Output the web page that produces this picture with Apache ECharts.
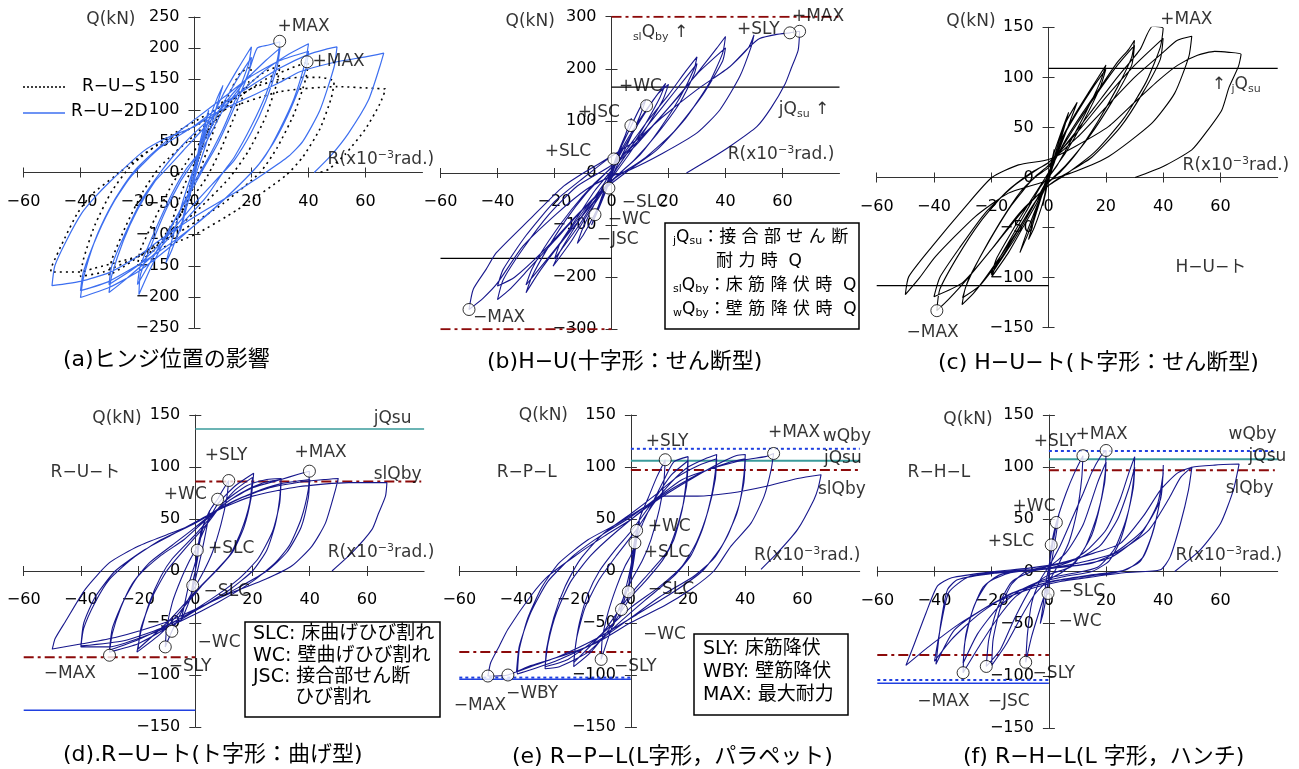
<!DOCTYPE html>
<html>
<head>
<meta charset="utf-8">
<script src="https://cdn.jsdelivr.net/npm/echarts@6/dist/echarts.min.js"></script>
<style>html,body{margin:0;background:#fff}#main{width:1299px;height:769px}</style>
</head>
<body>
<div id="main"></div>
<script>
// ---- tick labels ----
var xTicks = [-60, -40, -20, 0, 20, 40, 60];

// ---- (a) ヒンジ位置の影響 : R-U-2D (blue) / R-U-S (dotted) ----
var ru2d = [
 [0,0],[1,25],[2,45],[1,20],[0,0],[-1,-25],[-2,-45],[-1,-20],[0,0],
 [2,50],[4,85],[5,100],[3,60],[0,10],[-3,-50],[-5,-95],[-3,-60],[0,-5],
 [4,70],[8,120],[10,140],[8,110],[4,45],[0,-10],[-4,-75],[-8,-125],[-10,-145],[-8,-110],[-4,-45],[0,10],
 [5,75],[10,125],[15,165],[19,195],[20,202],[19,175],[15,125],[10,70],[5,25],[0,-15],[-5,-60],[-10,-105],[-15,-150],[-19.5,-196],[-19,-165],[-15,-115],[-10,-60],[-5,-15],[0,20],
 [5,65],[10,110],[15,150],[20,185],[19,160],[14,105],[8,45],[3,5],[-3,-45],[-10,-100],[-15,-140],[-20,-180],[-19,-150],[-14,-95],[-8,-35],[-3,5],
 [3,40],[10,100],[18,150],[22,200],[26,205],[30,210],[29,180],[25,125],[20,75],[14,25],[10,0],[4,-40],[-5,-85],[-15,-135],[-25,-175],[-30,-193],[-29,-165],[-25,-110],[-20,-60],[-14,-15],[-10,5],[-4,35],[5,80],[15,135],[25,180],[30,200],
 [29,170],[25,115],[20,65],[14,20],[8,-10],[0,-50],[-10,-105],[-20,-150],[-30,-180],[-29,-150],[-24,-95],[-18,-40],[-12,0],
 [-4,45],[5,85],[15,125],[25,165],[33,190],[40,207],[39,180],[35,120],[30,70],[25,28],[20,0],[10,-45],[0,-85],[-10,-125],[-20,-160],[-30,-185],[-40,-201],[-39,-170],[-35,-110],[-30,-60],[-25,-22],[-20,8],[-10,50],[0,85],[10,120],[20,155],[30,180],[40,195],
 [39,165],[34,105],[28,50],[22,10],[10,-45],[0,-85],[-15,-135],[-30,-175],[-40,-190],[-39,-160],[-34,-100],[-28,-45],[-22,-5],
 [-12,40],[0,75],[10,110],[20,140],[30,168],[40,190],[46,198],[50,202],[49,170],[44,100],[38,50],[33,26],[25,0],[14,-33],[0,-71],[-12,-108],[-20,-135],[-30,-161],[-40,-175],[-50,-182],
 [-49,-150],[-45,-110],[-39.5,-65],[-35,-40],[-29.5,-14],[-18,34],[-10,55],[0,74],[7,95],[21,125],[30,145],[37,162],[50,178],[60,186],[66.4,192],
 [65,170],[61,116],[54,63],[48,28],[42,0]
];
var rus = [
 [0,0],[2,40],[5,75],[3,45],[0,0],[-2,-40],[-5,-70],[-3,-40],[0,0],
 [4,60],[8,100],[10,115],[8,85],[4,30],[0,-20],[-4,-60],[-8,-95],[-10,-110],[-8,-80],[-4,-25],[0,15],
 [6,75],[12,125],[16,160],[20,170],[19,145],[14,90],[9,35],[4,-10],[-4,-60],[-12,-110],[-20,-150],[-19,-125],[-14,-75],[-8,-20],[-3,15],
 [6,75],[15,125],[24,160],[30,172],[29,145],[25,90],[19,35],[12,-10],[0,-65],[-15,-120],[-25,-152],[-30,-165],[-29,-140],[-24,-85],[-18,-30],[-12,10],[0,60],
 [12,110],[25,150],[34,168],[40,178],[39,150],[35,95],[29,40],[23,0],[10,-50],[-5,-95],[-20,-135],[-32,-160],[-40,-167],[-39,-140],[-35,-85],[-29,-30],[-22,12],[-10,55],[5,95],
 [20,135],[30,150],[38,153],[44,153],[49,146],[48,120],[44,70],[38,25],[32,-5],[15,-60],[0,-100],[-20,-135],[-36,-155],[-40,-160],[-50.5,-160],[-50,-150],[-46,-110],[-41,-65],[-36,-35],[-28,-6],[-19,26],[-10,52],
 [0,74],[10,100],[30,130],[50,138],[64,135],[67,134],[65,110],[60,70],[53,30],[47,5],[44,0]
];
var markA = [[29.9,211],[39.5,178]];
var notesA = [[-20.7,246,'Q(kN)','right'],[29.1,235,'+MAX'],[41.4,178.5,'+MAX'],[46.7,21,'R(x10{sup|−3}rad.)']];

// ---- (b) H-U ----
var hu = [
 [0,0],[1,20],[2,35],[1,15],[0,0],[-1,-20],[-2,-35],[-1,-15],[0,0],
 [2,35],[5,75],[7,105],[5,75],[2,25],[0,-5],[-2,-35],[-5,-75],[-7,-100],[-5,-70],[-2,-25],[0,5],
 [3,45],[6,80],[10,125],[12,140],[10,110],[6,60],[2,15],[0,-10],[-3,-45],[-6,-80],[-10,-120],[-12,-135],[-10,-105],[-6,-60],[-2,-15],[0,5],
 [4,50],[9,95],[14,135],[19,172],[17,145],[12,95],[7,50],[2,10],[-3,-35],[-9,-85],[-14,-130],[-20.5,-179],[-18,-150],[-13,-105],[-7,-55],[-2,-15],
 [4,45],[10,100],[16,150],[20,170],[18,140],[12,85],[6,35],[0,-10],[-6,-55],[-12,-105],[-18,-150],[-20,-165],[-18,-135],[-12,-85],[-6,-35],[0,5],
 [6,50],[12,95],[20,150],[26,195],[30,223],[29,200],[24,145],[17,85],[10,35],[3,0],[-4,-40],[-12,-95],[-20,-150],[-26,-195],[-30,-230],[-28,-200],[-23,-150],[-16,-90],[-9,-40],[-2,0],
 [6,45],[14,100],[22,155],[30,210],[29,190],[24,135],[16,75],[8,25],[0,-15],[-8,-60],[-16,-120],[-24,-175],[-30,-215],[-28,-185],[-22,-130],[-14,-70],[-6,-20],[0,10],
 [8,50],[16,100],[24,150],[32,205],[37,240],[40,262],[39,230],[34,170],[26,105],[16,45],[6,5],[0,-20],[-10,-70],[-20,-130],[-30,-190],[-36,-225],[-40,-243],[-38,-205],[-31,-145],[-22,-80],[-12,-25],[0,15],
 [10,65],[20,125],[30,190],[40,240],[39,215],[32,150],[22,80],[12,30],[0,-15],[-12,-80],[-24,-150],[-34,-200],[-40,-217],[-38,-185],[-30,-120],[-20,-55],[-10,-10],
 [0,32],[9,64],[18,108],[30,160],[41.5,204],[48,240],[50,265],[49,242],[45,185],[38,121],[30,77],[18,38],[6.4,6],[0,-6],[-9,-32],[-19,-77],[-31,-140],[-40,-211],[-45,-240],[-50,-262],
 [-48.5,-223],[-44,-185],[-40.4,-153],[-28.7,-89],[-17,-26],[-9,3],[0,32],[9,64],[18,108],[30,160],[41.5,204],[48,240],[52,258],[58,266],[62.6,269],[66,272],
 [65.5,236],[63,200],[61,172],[56,125],[51,89],[41.5,51],[34,25],[26.3,0]
];
var markB = [[66,272],[62.6,269],[12.3,129],[6.8,91],[0.8,27],[-0.9,-29],[-5.8,-80],[-50,-262]];
var notesB = [[-19.9,290,'Q(kN)','right'],[63.3,300,'+MAX'],[44,275,'+SLY'],[2.6,165,'+WC'],[-11.8,115.6,'+JSC'],[-23.4,41,'+SLC'],
 [3.6,-57,'−SLC'],[-1.3,-90,'−WC'],[-5.2,-127,'−JSC'],[-48.6,-278,'−MAX'],[7.5,269,'{s|sl}Q{s|by} ↑'],[58.7,121.5,'jQ{s|su} ↑'],
 [40.8,35,'R(x10{sup|−3}rad.)']];
var refB_sl = [[300,0,80],[-300,-60,0]];
var refB_jq = [[165,0,80],[-164,-60,0]];

// ---- (c) H-U-ト ----
var hut = [
 [0,0],[1,15],[2,28],[1,12],[0,0],[-1,-15],[-2,-28],[-1,-12],[0,0],
 [2,25],[5,50],[7,65],[5,45],[2,15],[0,0],[-2,-25],[-5,-50],[-7,-62],[-5,-42],[-2,-15],[0,0],
 [3,30],[6,55],[10,75],[8,60],[4,30],[0,5],[-4,-30],[-7,-55],[-10,-75],[-8,-58],[-4,-28],[0,-3],
 [4,35],[9,62],[14,85],[20,112],[18,95],[13,65],[8,38],[3,12],[0,0],[-4,-25],[-9,-50],[-14,-75],[-19.8,-99],[-18,-85],[-13,-60],[-8,-35],[-3,-10],[0,2],
 [5,40],[10,65],[16,92],[20,108],[18,90],[12,55],[6,25],[0,0],[-6,-32],[-12,-62],[-18,-88],[-20,-97],[-18,-80],[-12,-50],[-6,-22],[0,5],
 [6,38],[12,65],[18,90],[24,115],[28,128],[30,137],[29,120],[24,90],[17,55],[10,25],[4,5],[0,-5],[-6,-30],[-12,-58],[-20,-92],[-26,-115],[-30.2,-127],[-29,-110],[-24,-80],[-17,-45],[-10,-15],[-4,2],[0,10],
 [8,45],[16,80],[24,112],[30,132],[29,112],[22,75],[14,40],[6,12],[0,-5],[-8,-40],[-16,-78],[-24,-108],[-30,-120],[-28,-102],[-21,-65],[-13,-28],[-5,0],[0,12],
 [8,40],[16,70],[24,100],[32,128],[36.3,151],[40,149],[39,130],[34,95],[26,58],[16,25],[6,3],[0,-8],[-8,-30],[-18,-65],[-28,-100],[-35,-122],[-39,-133],[-38,-112],[-32,-80],[-24,-45],[-15,-15],[-6,5],[0,15],
 [10,45],[20,80],[30,112],[40,139],[39,118],[33,85],[25,50],[15,20],[5,2],[0,-8],[-10,-35],[-20,-72],[-30,-105],[-40,-119],[-38,-100],[-31,-70],[-22,-35],[-12,-8],[-4,8],[0,15],
 [10,40],[20,70],[30,100],[40,125],[45,137],[50,141],[49,121],[44,84],[36,54],[21,21],[9.3,6],[-1.2,-4],[-14,-15.6],[-25.6,-39],[-39.5,-79],[-45,-100],[-50,-117],
 [-48.8,-99],[-40.7,-69],[-29,-29],[-19.8,0],[-10.5,12.6],[0,18],[9.3,31],[21,51],[30,75],[38.4,97],[45,112],[52,122],[58,126],[63,125],[67.2,123],
 [66.3,111],[63,90],[60.5,67.5],[55,45],[50,27.6],[40,11],[30.2,0]
];
var markC = [[36.3,151],[-39,-133]];
var notesC = [[-18.5,155.5,'Q(kN)','right'],[39,158,'+MAX'],[57,92.5,'↑ {s|j}Q{s|su}'],[44.3,-89.5,'H−U−ト'],[-49.6,-154.5,'−MAX'],[46.8,11.5,'R(x10{sup|−3}rad.)']];
var refC_jq = [[109,0,80],[-108,-60,0]];

// ---- (d) R-U-ト ----
var rut = [
 [0,0],[0.7,20],[1.5,32],[0.8,12],[0,0],[-0.9,-14],[-1.5,-24],[-0.7,-8],[0,0],
 [2,38],[4,52],[5,58],[4,42],[2,15],[0,-8],[-2,-28],[-4,-42],[-5,-48],[-4,-35],[-2,-10],[0,8],
 [3,45],[5.5,60],[7.8,69],[9,75],[11.7,87],[11,70],[9,45],[6,18],[3,0],[0,-15],[-4,-35],[-8.2,-58],[-10.5,-73],[-10,-55],[-8,-30],[-5,-8],[-2,10],[0,20],
 [4,45],[8,65],[14,82],[20.4,94],[19.5,70],[17,42],[13,18],[8,2],[2,-15],[-5,-38],[-12,-60],[-20.4,-78],[-19,-58],[-16,-30],[-12,-5],[-8,12],[0,35],[8,60],
 [14,78],[20,90],[19,65],[16,38],[12,15],[6,-3],[0,-20],[-10,-50],[-20,-75],[-19,-55],[-15,-25],[-10,0],[-4,20],[4,45],
 [10,66],[18,82],[25,88],[30,89],[29.5,70],[28,45],[25,20],[20,0],[12,-18],[2,-35],[-10,-55],[-20,-70],[-30,-78],[-29,-60],[-26,-35],[-22,-12],[-16,8],[-8,25],[0,42],[8,60],
 [16,75],[24,85],[30,88],[29.5,65],[27,38],[22,12],[15,-8],[5,-28],[-8,-50],[-20,-66],[-30,-76],[-29,-55],[-25,-28],[-20,-5],[-12,15],[-4,30],[4,50],
 [12,68],[20,80],[30,88],[36,93],[39.9,96],[39.5,78],[37,50],[33,25],[28,8],[20,-10],[8,-30],[-5,-48],[-18,-63],[-30,-73],[-40,-73],[-39,-55],[-35,-30],[-30,-8],[-22,12],[-12,30],[0,46],[10,62],
 [20,75],[30,84],[40,88],[39.5,70],[37,42],[32,18],[25,0],[15,-16],[2,-35],[-12,-55],[-25,-67],[-40,-72],[-39,-50],[-35,-25],[-28,0],[-18,20],[-8,35],[2,50],
 [14,68],[26,80],[38,86],[45,88],[50,89],[49,78],[45.5,46],[40.8,24],[33.8,5],[24.5,-8],[12.8,-20.7],[0,-36.7],[-10.5,-49.5],[-28,-64],[-39.6,-70],[-50,-75],
 [-49,-65],[-45.5,-49],[-38.5,-17.6],[-30,8],[-19.8,24],[-8.2,36.7],[0,46],[8.2,59],[20,72],[36,81],[53.6,85],[67,85],
 [66.5,72],[64,55],[61.8,40],[54.8,17.6],[47.8,0]
];
var markD = [[11.7,87],[7.8,69],[39.9,96],[0.7,20],[-0.9,-14],[-8.2,-58],[-10.5,-73],[-30,-81]];
var notesD = [[-18.8,147,'Q(kN)','right'],[62.4,147,'jQsu'],[62.4,93,'slQby'],[-50.6,95,'R−U−ト'],[3.3,111,'+SLY'],[34.7,114,'+MAX'],
 [-11,73.7,'+WC'],[4.4,21.8,'+SLC'],[2.9,-19.6,'−SLC'],[0.8,-68.6,'−WC'],[-9.3,-91.6,'−SLY'],[-53,-98.5,'−MAX'],[46.3,18,'R(x10{sup|−3}rad.)']];
var refD_jq = [[136.6,0,80]];
var refD_jqn = [[-134,-60,0]];
var refD_sl = [[86,0,79],[-83,-60,0]];

// ---- (e) R-P-L ----
var rpl = [
 [0,0],[0.7,15],[1.4,27],[0.7,10],[0,0],[-0.5,-10],[-0.9,-20],[-0.5,-8],[0,0],
 [1,25],[2,39],[3,48],[2,30],[1,10],[0,-5],[-2,-25],[-3.3,-37],[-4,-45],[-3,-30],[-1,-8],[0,5],
 [3,50],[6,70],[9,90],[12,107],[11.5,85],[10,60],[7,30],[4,10],[0,-10],[-4,-35],[-8,-65],[-10.4,-85],[-10,-65],[-8,-40],[-5,-15],[-2,5],[0,15],
 [4,45],[8,68],[12,90],[15,105],[20,110],[19.5,90],[18,60],[15,30],[11,10],[5,-10],[0,-25],[-6,-50],[-14,-78],[-20,-92],[-19.5,-75],[-18,-50],[-15,-22],[-11,0],[-5,22],[0,38],
 [8,68],[14,92],[20,106],[19.5,82],[17,50],[13,20],[7,0],[0,-22],[-10,-60],[-20,-88],[-19,-65],[-16,-35],[-11,-8],[-5,15],[2,40],
 [8,65],[14,85],[20,100],[26,108],[30,112],[29.5,95],[28,70],[25,40],[21,15],[15,-5],[5,-28],[-5,-52],[-15,-78],[-25,-92],[-30,-94],[-29.5,-75],[-27,-45],[-23,-15],[-18,10],[-10,35],[0,55],[8,72],
 [16,90],[24,102],[30,108],[29.5,88],[27,58],[23,28],[18,5],[10,-15],[0,-35],[-12,-65],[-22,-85],[-30,-92],[-29,-70],[-26,-40],[-21,-10],[-14,15],[-5,38],[5,60],
 [13,75],[22,90],[32,105],[37,111],[40,112],[39.5,92],[38,65],[34,35],[29,12],[22,-5],[10,-25],[0,-45],[-12,-68],[-25,-85],[-35,-95],[-39.7,-99],[-39,-75],[-36,-45],[-31,-15],[-25,8],[-15,30],[-5,45],[5,62],
 [15,80],[25,95],[35,105],[40,108],[39.5,85],[37,55],[32,25],[25,0],[15,-20],[2,-42],[-12,-65],[-25,-82],[-35,-92],[-40,-97],[-39,-72],[-35,-40],[-29,-10],[-20,15],[-10,35],[0,52],
 [8,68],[18,88],[30,100],[40,107],[47,110],[49.9,113],[49,97],[46.6,72],[42,46],[35,24],[29,0],[21,-17.6],[11.7,-33.5],[0,-49.5],[-11.7,-68.6],[-23.3,-81],[-35,-91],[-43,-100],[-50,-101],
 [-49,-88],[-46,-72],[-43,-56],[-35,-24],[-29,-5],[-19.8,14],[-9.3,33.5],[0,49.5],[7,65],[11.7,72],[23.3,72],[35,75],[46.6,81],[58.3,89],[66.5,92.6],
 [65.5,80],[64,68.6],[58.3,40],[51.3,17.6],[45.5,1.6]
];
var markE = [[12,107],[49.9,113],[2,39],[1.4,27],[-0.9,-20],[-3.3,-37],[-10.4,-85],[-43,-100],[-50,-101]];
var notesE = [[-22,149.7,'Q(kN)','right'],[-46.9,95,'R−P−L'],[5.2,124,'+SLY'],[47.9,133,'+MAX'],[67.1,129.5,'wQby'],[67.5,108.4,'jQsu'],
 [65.4,78.6,'slQby'],[5.9,43,'+WC'],[4.5,18,'+SLC'],[5.9,-17.6,'−SLC'],[4.2,-61,'−WC'],[-5.9,-91.6,'−SLY'],[-43.7,-117.6,'−WBY'],
 [-61.9,-129,'−MAX'],[43,15,'R(x10{sup|−3}rad.)']];
var refE_w = [[117.5,0,80],[-102.5,-60,0]];
var refE_jq = [[106,0,80]];
var refE_jqn = [[-104,-60,0]];
var refE_sl = [[97,0,80],[-78,-60,0]];

// ---- (f) R-H-L ----
var rhl = [
 [0,0],[0.5,15],[0.8,25],[0.4,10],[0,0],[-0.2,-12],[-0.3,-21],[-0.2,-8],[0,0],
 [1.2,30],[2.6,47],[3.5,55],[2.5,35],[1,10],[0,-5],[-1,-25],[-2,-40],[-3,-50],[-2,-32],[-1,-10],[0,5],
 [3,50],[6,75],[9,95],[11.9,111],[11.5,90],[10,60],[7,28],[3,5],[0,-10],[-3,-35],[-6,-62],[-8.1,-87],[-7.5,-60],[-6,-30],[-3,-8],[0,5],
 [4,25],[8,50],[12,75],[15,95],[18,110],[20,116],[19.7,95],[18,65],[15,35],[10,12],[5,0],[0,-8],[-5,-22],[-10,-45],[-15,-70],[-20,-90],[-19.5,-65],[-17,-35],[-13,-12],[-8,0],[0,5],
 [6,18],[12,45],[17,85],[20,105],[19.5,85],[17,55],[13,25],[8,5],[0,-3],[-6,-15],[-12,-45],[-17,-75],[-21.9,-91],[-21,-65],[-18,-35],[-13,-10],[-6,0],[0,3],
 [8,10],[14,22],[20,40],[25,70],[28,95],[30,110],[29.6,88],[28,60],[25,30],[21,10],[15,0],[5,-5],[-5,-12],[-12,-25],[-18,-45],[-24,-70],[-30,-97],[-29.5,-70],[-27,-40],[-23,-15],[-17,-3],[-8,1],[0,5],
 [10,12],[18,25],[24,50],[28,80],[30,100],[29.5,80],[27,50],[23,22],[17,4],[8,-2],[0,-6],[-10,-18],[-18,-35],[-25,-60],[-30,-88],[-29,-60],[-26,-32],[-21,-10],[-12,0],[0,3],
 [10,8],[22.7,17.6],[33,40],[39,69],[40,102],[39.5,78],[36.6,40],[33,14],[27,1.6],[15.7,-3],[4,-8],[-10,-17.6],[-21.5,-33.5],[-33,-56],[-39.5,-89],[-37.8,-49.5],[-35.5,-17.6],[-32,-8],[-19,-1.6],[-4,1.6],[10,6],
 [22,14],[32,35],[38,65],[40,95],[39,70],[36,35],[32,10],[25,0],[12,-5],[0,-10],[-14,-22],[-25,-42],[-34,-65],[-40,-86],[-38,-55],[-35,-20],[-28,-5],[-15,0],[0,3],
 [15,8],[25,20],[35,40],[42,70],[46,90],[50,100],[48.8,78],[46,46],[42.4,14],[39,1.6],[27,-1],[15.7,-5],[4,-9.6],[-7.6,-17.6],[-19,-30],[-31,-49.5],[-42,-72],[-50,-90],
 [-47,-69],[-43,-40],[-39,-14],[-34,-6],[-19,0],[-7.6,3],[4,8],[15.7,17.6],[25,27],[33,53],[39,78],[44.8,94],[50,100],[58,102],[66.5,103],
 [64.5,78],[60,46],[53,21],[44,0]
];
var markF = [[11.9,111],[20,116],[2.6,47],[0.8,25.5],[-0.3,-21],[-8.1,-87],[-21.9,-91],[-30,-97]];
var notesF = [[-19.7,146,'Q(kN)','right'],[-49.4,95,'R−H−L'],[-5.3,124.7,'+SLY'],[9.3,131.4,'+MAX'],[62.8,131.4,'wQby'],[69.8,110,'jQsu'],
 [61.8,79.5,'slQby'],[-12.7,62,'+WC'],[-21.4,28.5,'+SLC'],[3.4,-19.6,'−SLC'],[3.4,-48,'−WC'],[-5.7,-97.5,'−SLY'],[-46,-125,'−MAX'],
 [-21.4,-125,'−JSC'],[44.3,15,'R(x10{sup|−3}rad.)']];
var refF_w = [[115.5,0,78.5],[-104,-60,0]];
var refF_jq = [[107.6,0,80]];
var refF_jqn = [[-107,-60,0]];
var refF_sl = [[97,0,79],[-80,-60,0]];

// ---- styles ----
var FONT = '"DejaVu Sans", "Noto Sans CJK JP", sans-serif';
var NAVY = '#17178c', DRED = '#8c0a0a', TEAL = '#3a9b9b', BLUE = '#2040e0';
var AXIS = '#333';
var DASHDOT = [10, 4, 3, 4];
var XMIN = -60, XMAX = 80;

var panels = [
  {left: 23.5, top: 17, width: 399, height: 311, y: [-250, 250, 50], marks: markA, notes: notesA,
   loops: [{d: rus, c: '#000', t: [2, 4], w: 1.6}, {d: ru2d, c: '#3d6ff0', w: 1.2}], refs: []},
  {left: 440.5, top: 16.7, width: 399, height: 312.6, y: [-300, 300, 100], marks: markB, notes: notesB,
   loops: [{d: hu, c: NAVY}],
   refs: [{d: refB_sl, c: DRED, t: DASHDOT, w: 2}, {d: refB_jq, c: '#000', w: 1.2}]},
  {left: 876.7, top: 27.3, width: 401, height: 300.4, y: [-150, 150, 50], marks: markC, notes: notesC,
   loops: [{d: hut, c: '#000'}], refs: [{d: refC_jq, c: '#000', w: 1.2}]},
  {left: 23.7, top: 415, width: 400.4, height: 312, y: [-150, 150, 50], marks: markD, notes: notesD,
   loops: [{d: rut, c: NAVY}],
   refs: [{d: refD_jq, c: TEAL, w: 1.5}, {d: refD_jqn, c: BLUE, w: 1.5}, {d: refD_sl, c: DRED, t: DASHDOT, w: 2}]},
  {left: 459.3, top: 415, width: 400.4, height: 312, y: [-150, 150, 50], marks: markE, notes: notesE,
   loops: [{d: rpl, c: NAVY}],
   refs: [{d: refE_w, c: BLUE, t: [3, 3], w: 2}, {d: refE_jq, c: TEAL, w: 2}, {d: refE_jqn, c: BLUE, w: 1.5}, {d: refE_sl, c: DRED, t: DASHDOT, w: 2}]},
  {left: 877.3, top: 415, width: 400.4, height: 313, y: [-150, 150, 50], marks: markF, notes: notesF,
   loops: [{d: rhl, c: NAVY}],
   refs: [{d: refF_w, c: BLUE, t: [3, 3], w: 2}, {d: refF_jq, c: TEAL, w: 2}, {d: refF_jqn, c: BLUE, w: 1.5}, {d: refF_sl, c: DRED, t: DASHDOT, w: 2}]}
];

function fmt(v) { return v < 0 ? '−' + Math.abs(v) : String(v); }

var grids = [], xAxes = [], yAxes = [], series = [];
var rich = {
  sup: {fontSize: 11, fontFamily: FONT, color: '#000', verticalAlign: 'top', lineHeight: 12},
  s: {fontSize: 11, fontFamily: FONT, color: '#000', verticalAlign: 'bottom', lineHeight: 12}
};

panels.forEach(function (p, i) {
  grids.push({left: p.left, top: p.top, width: p.width, height: p.height, containLabel: false, outerBoundsMode: 'none'});
  // axes cross at the origin: shift them inward by the distance from the grid edge to zero
  var xZero = -(0 - XMIN) / (XMAX - XMIN) * p.width;
  var xZeroR = -(XMAX - 0) / (XMAX - XMIN) * p.width;
  var yZero = -(0 - p.y[0]) / (p.y[1] - p.y[0]) * p.height;
  var yZeroT = -(p.y[1] - 0) / (p.y[1] - p.y[0]) * p.height;
  xAxes.push({type: 'value', gridIndex: i, min: XMIN, max: XMAX, position: 'bottom', offset: yZero,
    axisLine: {onZero: false, lineStyle: {color: AXIS, width: 1}},
    axisTick: {customValues: xTicks, length: 5, lineStyle: {color: AXIS}},
    axisLabel: {customValues: xTicks, margin: 21, fontSize: 16, color: '#000', fontFamily: FONT, formatter: fmt},
    splitLine: {show: false}});
  xAxes.push({type: 'value', gridIndex: i, min: XMIN, max: XMAX, position: 'top', offset: yZeroT,
    axisLine: {show: false, onZero: false},
    axisTick: {customValues: xTicks, length: 5, lineStyle: {color: AXIS}},
    axisLabel: {show: false}, splitLine: {show: false}});
  yAxes.push({type: 'value', gridIndex: i, min: p.y[0], max: p.y[1], interval: p.y[2], position: 'left', offset: xZero,
    axisLine: {onZero: false, lineStyle: {color: AXIS, width: 1}},
    axisTick: {length: 6, lineStyle: {color: AXIS}},
    axisLabel: {margin: 15, fontSize: 16, color: '#000', fontFamily: FONT, formatter: fmt},
    splitLine: {show: false}});
  yAxes.push({type: 'value', gridIndex: i, min: p.y[0], max: p.y[1], interval: p.y[2], position: 'right', offset: xZeroR,
    axisLine: {show: false, onZero: false},
    axisTick: {length: 6, lineStyle: {color: AXIS}},
    axisLabel: {show: false}, splitLine: {show: false}});
  var xi = 2 * i, yi = 2 * i;

  p.refs.forEach(function (r) {
    r.d.forEach(function (s) {
      series.push({type: 'line', xAxisIndex: xi, yAxisIndex: yi, data: [[s[1], s[0]], [s[2], s[0]]], symbol: 'none', silent: true, z: 2,
        lineStyle: {color: r.c, width: r.w || 1.2, type: r.t || 'solid'}});
    });
  });
  p.loops.forEach(function (l) {
    series.push({type: 'line', xAxisIndex: xi, yAxisIndex: yi, data: l.d, symbol: 'none', smooth: 0.2, silent: true, z: 3,
      lineStyle: {color: l.c, width: l.w || 1.1, type: l.t || 'solid'}});
  });
  series.push({type: 'scatter', xAxisIndex: xi, yAxisIndex: yi, data: p.marks, symbol: 'circle', symbolSize: 12, z: 5, silent: true,
    itemStyle: {color: '#fff', borderColor: '#000', borderWidth: 1}});
  series.push({type: 'scatter', xAxisIndex: xi, yAxisIndex: yi, clip: false, silent: true, z: 6, symbolSize: 1,
    itemStyle: {color: 'rgba(0,0,0,0)'},
    data: p.notes.map(function (n) {
      return {value: [n[0], n[1]], label: {formatter: n[2], align: n[3] || 'left'}};
    }),
    label: {show: true, position: 'inside', verticalAlign: 'middle', fontSize: 17, lineHeight: 20, color: '#000', fontFamily: FONT, rich: rich}});
});

// captions, legend of (a), note boxes
function txt(x, y, s, size, r) {
  return {type: 'text', x: x, y: y, z: 100, style: {text: s, fontSize: size, fontFamily: FONT, fill: '#000', verticalAlign: 'middle', rich: r}};
}
var sub = {s: {fontSize: 11, fontFamily: FONT, fill: '#000', verticalAlign: 'bottom'}};
var graphic = [
  txt(63, 360, '(a)ヒンジ位置の影響', 22),
  txt(487, 362, '(b)H−U(十字形：せん断型)', 22),
  txt(938, 363, '(c) H−U−ト(ト字形：せん断型)', 22),
  txt(63, 755, '(d).R−U−ト(ト字形：曲げ型)', 22),
  txt(512, 757, '(e) R−P−L(L字形，パラペット)', 22),
  txt(963, 757, '(f) R−H−L(L 字形，ハンチ)', 22),
  {type: 'line', z: 100, shape: {x1: 23, y1: 87, x2: 65, y2: 87}, style: {stroke: '#000', lineWidth: 1.5, lineDash: [2, 2]}},
  txt(82, 87, 'R−U−S', 17),
  {type: 'line', z: 100, shape: {x1: 23, y1: 113, x2: 65, y2: 113}, style: {stroke: '#3d6ff0', lineWidth: 1.5}},
  txt(71, 112, 'R−U−2D', 17),
  {type: 'rect', z: 99, shape: {x: 665, y: 223, width: 194, height: 106}, style: {fill: '#fff', stroke: '#000', lineWidth: 1.5}},
  txt(673, 238, '{s|j}Q{s|su}：接 合 部 せ ん 断', 17, sub),
  txt(716, 262, '耐 力 時  Q', 17),
  txt(673, 286, '{s|sl}Q{s|by}：床 筋 降 伏 時  Q', 17, sub),
  txt(673, 310, '{s|w}Q{s|by}：壁 筋 降 伏 時  Q', 17, sub),
  {type: 'rect', z: 99, shape: {x: 245, y: 622, width: 195, height: 95}, style: {fill: '#fff', stroke: '#000', lineWidth: 1.5}},
  txt(253, 634, 'SLC: 床曲げひび割れ', 19),
  txt(253, 656, 'WC: 壁曲げひび割れ', 19),
  txt(253, 677, 'JSC: 接合部せん断', 19),
  txt(295, 698, 'ひび割れ', 19),
  {type: 'rect', z: 99, shape: {x: 694, y: 634, width: 154, height: 81}, style: {fill: '#fff', stroke: '#000', lineWidth: 1.5}},
  txt(703, 649, 'SLY: 床筋降伏', 19),
  txt(703, 672, 'WBY: 壁筋降伏', 19),
  txt(703, 695, 'MAX: 最大耐力', 19)
];

var chart = echarts.init(document.getElementById('main'));
chart.setOption({
  animation: false,
  backgroundColor: '#fff',
  grid: grids,
  xAxis: xAxes,
  yAxis: yAxes,
  series: series,
  graphic: graphic
});
</script>
</body>
</html>
